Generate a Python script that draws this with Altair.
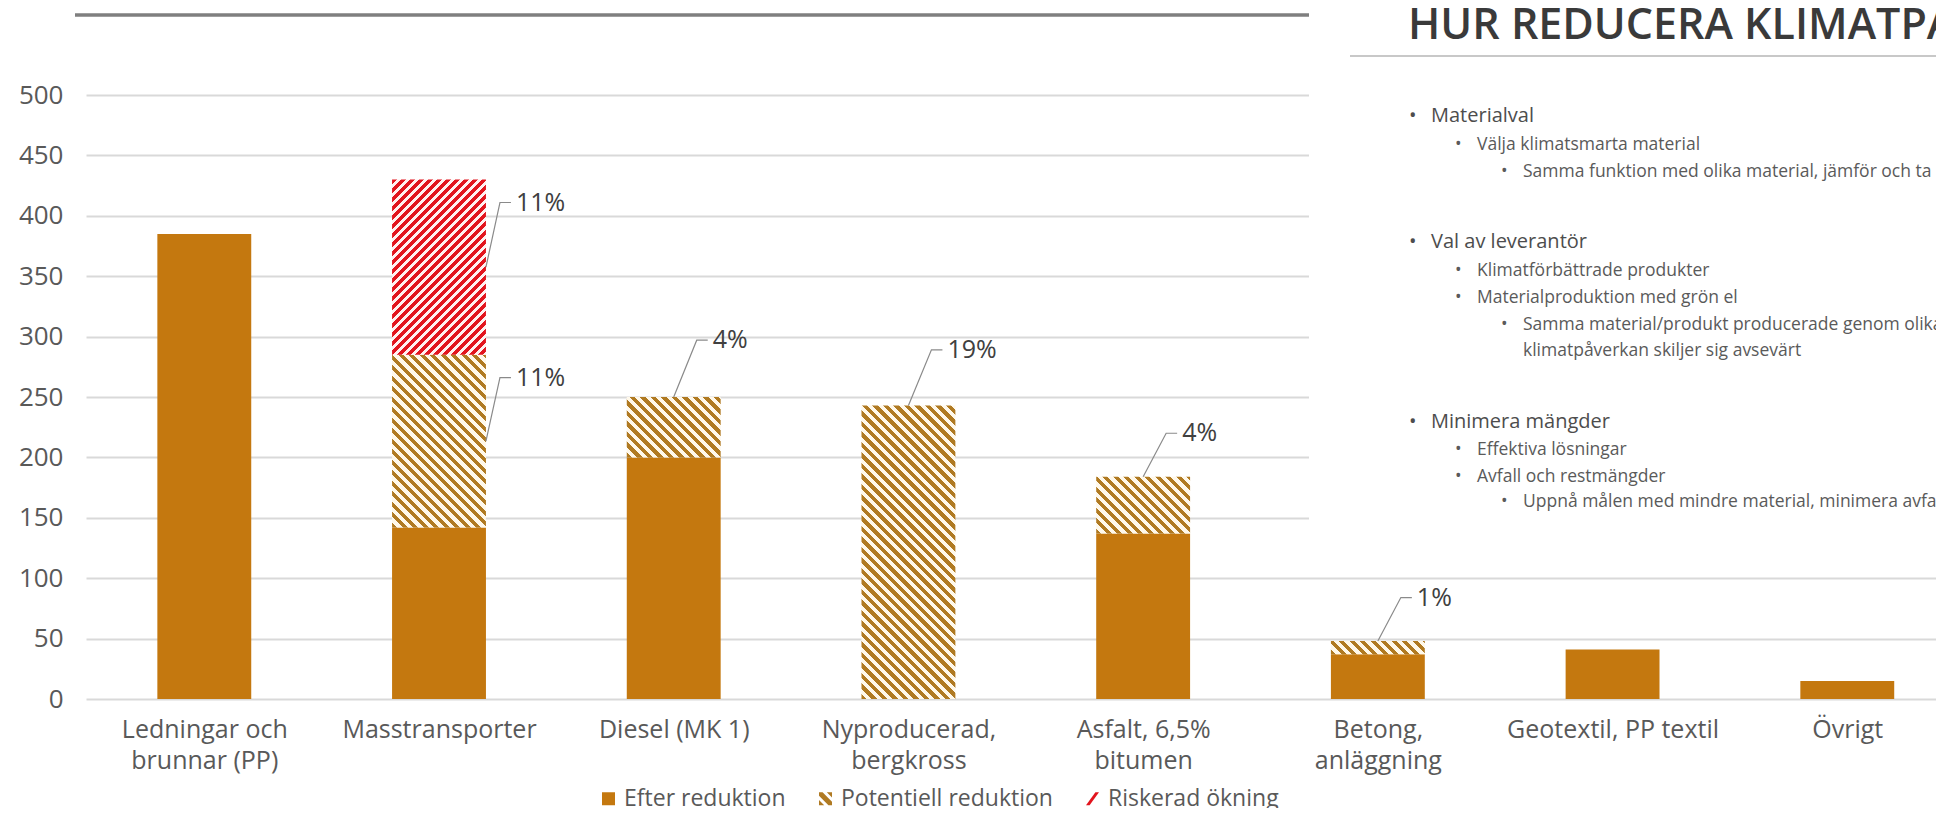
import json
import altair as alt
import pandas as pd

# ---------------- data ----------------
categories = ["Ledningar och\nbrunnar (PP)", "Masstransporter", "Diesel (MK 1)",
              "Nyproducerad,\nbergkross", "Asfalt, 6,5%\nbitumen", "Betong,\nanläggning",
              "Geotextil, PP textil", "Övrigt"]
efter = [385, 142, 200, 0, 137, 37, 41, 15]
potentiell = [0, 143, 50, 243, 47, 11, 0, 0]
riskerad = [0, 145, 0, 0, 0, 0, 0, 0]
series_names = ["Efter reduktion", "Potentiell reduktion", "Riskerad ökning"]
y_ticks = [0, 50, 100, 150, 200, 250, 300, 350, 400, 450, 500]

pct_category = [1, 1, 2, 3, 4, 5]
pct_series = ["Riskerad ökning", "Potentiell reduktion", "Potentiell reduktion",
              "Potentiell reduktion", "Potentiell reduktion", "Potentiell reduktion"]
pct_text = ["11%", "11%", "4%", "19%", "4%", "1%"]
pct_label_y = [411, 266, 297, 289, 220, 84]
pct_anchor = ["edge", "edge", "top", "top", "top", "top"]

title_text = "HUR REDUCERA KLIMATPÅVERKAN"
panel_texts = ["Materialval", "Välja klimatsmarta material",
               "Samma funktion med olika material, jämför och ta",
               "Val av leverantör", "Klimatförbättrade produkter",
               "Materialproduktion med grön el",
               "Samma material/produkt producerade genom olika",
               "klimatpåverkan skiljer sig avsevärt",
               "Minimera mängder", "Effektiva lösningar", "Avfall och restmängder",
               "Uppnå målen med mindre material, minimera avfall"]
panel_levels = [1, 2, 3, 1, 2, 2, 3, 3, 1, 2, 2, 3]
panel_bullet = [True, True, True, True, True, True, True, False, True, True, True, True]

# ---------------- layout / style ----------------
W, H = 1850, 604
PAD = {"left": 78, "top": 87, "right": 0, "bottom": 109}
X_DOM = [-0.504, 7.378]
PX_X = W / (X_DOM[1] - X_DOM[0])
PX_Y = H / 500.0
BAR_HALF = 0.2
FONT = "Open Sans"
SOLID = "#C4780F"
HATCH_DARK = "#B07A22"
HATCH_BG = "#FFF8EA"
RED = "#E2141D"
RED_BG = "#FFF0F0"
TXT = "#595959"

panel_y = [27, 55, 82, 153, 181, 208, 235, 261, 333, 360, 387, 412]
lvl_text_x = {1: 1345, 2: 1391, 3: 1437}
lvl_bullet_x = {1: 1323, 2: 1369, 3: 1415}
lvl_size = {1: 20, 2: 17.5, 3: 17.5}

XS = alt.Scale(domain=X_DOM, nice=False, zero=False)
YS = alt.Scale(domain=[0, 500], nice=False, zero=False)

label_lines = json.dumps([c.split("\n") for c in categories], ensure_ascii=False)
X_AXIS = alt.Axis(values=list(range(len(categories))), labelExpr=f"{label_lines}[datum.value]",
                  grid=False, domain=False, ticks=False, labelFont=FONT, labelFontSize=25,
                  labelColor=TXT, labelPadding=18, labelLineHeight=31, labelAlign="center",
                  labelBaseline="top", labelOverlap=False, labelFlush=False, labelBound=False,
                  labelLimit=0, title=None)
Y_AXIS = alt.Axis(values=y_ticks, grid=True, gridColor="#d9d9d9", gridWidth=2, domain=False,
                  ticks=False, labelFont=FONT, labelFontSize=26, labelColor=TXT,
                  labelPadding=23, title=None)


def X(field):
    return alt.X(field, type="quantitative", scale=XS, axis=X_AXIS, title=None)


def Y(field):
    return alt.Y(field, type="quantitative", scale=YS, axis=Y_AXIS, title=None)


# ---------------- segments ----------------
rows = []
for i, c in enumerate(categories):
    lo = 0
    for s, vals in zip(series_names, [efter, potentiell, riskerad]):
        v = vals[i]
        if v > 0:
            rows.append({"seg": f"{i}-{s}", "idx": i, "series": s, "lo": lo, "hi": lo + v,
                         "x0": i - BAR_HALF, "x1": i + BAR_HALF})
        lo += v
seg_df = pd.DataFrame(rows)


def hatch(w, h, period, color, bg, direction):
    span = w + h
    k = span / (w * w + h * h)
    if direction == "back":
        x1, y1, x2, y2 = 0, 1, k * w, 1 - k * h
    else:
        x1, y1, x2, y2 = 0, 0, k * w, k * h
    stops = []
    step = period / span
    pos = 0.0
    while pos < 1 - 1e-9:
        b = min(pos + step * 0.5, 1.0)
        c = min(pos + step, 1.0)
        stops += [{"offset": round(pos, 5), "color": color}, {"offset": round(b, 5), "color": color},
                  {"offset": round(b, 5), "color": bg}, {"offset": round(c, 5), "color": bg}]
        pos += step
    return {"gradient": "linear", "x1": round(x1, 5), "y1": round(y1, 5),
            "x2": round(x2, 5), "y2": round(y2, 5), "stops": stops}


layers = []
solid = alt.Chart(seg_df).transform_filter(alt.datum.series == series_names[0]).mark_rect(
    color=SOLID, strokeWidth=0).encode(x=X("x0"), x2="x1", y=Y("lo"), y2="hi")
layers.append(solid)

for _, r in seg_df[seg_df.series != series_names[0]].iterrows():
    w = 2 * BAR_HALF * PX_X
    h = (r.hi - r.lo) * PX_Y
    if r.series == series_names[2]:
        g = hatch(w, h, 9.0, RED, RED_BG, "fwd")
    else:
        g = hatch(w, h, 10.5, HATCH_DARK, HATCH_BG, "back")
    layers.append(alt.Chart(seg_df).transform_filter(alt.datum.seg == r.seg).mark_rect(
        fill=g, strokeWidth=0).encode(x=X("x0"), x2="x1", y=Y("lo"), y2="hi"))

# white panel that hides the grid behind the slide text (as in the screenshot)
dummy = pd.DataFrame({"a": [0]})
layers.append(alt.Chart(dummy).mark_rect(color="white").encode(
    x=alt.value(1223), x2=alt.value(W), y=alt.value(-PAD["top"]), y2=alt.value(450)))

# top decorative lines
layers.append(alt.Chart(dummy).mark_rule(color="#7f7f7f", strokeWidth=3.5).encode(
    x=alt.value(-11), x2=alt.value(1223), y=alt.value(-80)))
layers.append(alt.Chart(dummy).mark_rule(color="#c8c8c8", strokeWidth=2).encode(
    x=alt.value(1264), x2=alt.value(W), y=alt.value(-39)))

# ---------------- percentage labels with leaders ----------------
lead_rows, txt_rows = [], []
for j, (ci, s, t, ly, a) in enumerate(zip(pct_category, pct_series, pct_text, pct_label_y, pct_anchor)):
    seg = seg_df[(seg_df.idx == ci) & (seg_df.series == s)].iloc[0]
    if a == "edge":
        ax, ay, dx = ci + BAR_HALF, (seg.lo + seg.hi) / 2, 14
    else:
        ax, ay, dx = ci, seg.hi, 23
    ex = ax + dx / PX_X
    lead_rows += [{"id": j, "o": 0, "lx": ax, "ly": ay},
                  {"id": j, "o": 1, "lx": ex, "ly": ly},
                  {"id": j, "o": 2, "lx": ex + 11 / PX_X, "ly": ly}]
    txt_rows.append({"tx": ex + 16 / PX_X, "ty": ly, "t": t})

layers.append(alt.Chart(pd.DataFrame(lead_rows)).mark_line(color="#8a8a8a", strokeWidth=1.2).encode(
    x=X("lx"), y=Y("ly"), detail="id:N", order="o:Q"))
layers.append(alt.Chart(pd.DataFrame(txt_rows)).mark_text(
    align="left", baseline="middle", font=FONT, fontSize=25, color="#404040").encode(
    x=X("tx"), y=Y("ty"), text="t:N"))

# ---------------- slide text panel ----------------
layers.append(alt.Chart(dummy).mark_text(
    align="left", baseline="alphabetic", font=FONT, fontSize=43, fontWeight=600,
    color="#3a3a3a").encode(x=alt.value(1322), y=alt.value(-56), text=alt.value(title_text)))

for t, lv, b, yy in zip(panel_texts, panel_levels, panel_bullet, panel_y):
    fs = lvl_size[lv]
    col = "#4d4d4d" if lv == 1 else "#5a5a5a"
    layers.append(alt.Chart(dummy).mark_text(
        align="left", baseline="alphabetic", font=FONT, fontSize=fs, color=col).encode(
        x=alt.value(lvl_text_x[lv]), y=alt.value(yy), text=alt.value(t)))
    if b:
        layers.append(alt.Chart(dummy).mark_text(
            align="left", baseline="alphabetic", font=FONT, fontSize=fs, color=col).encode(
            x=alt.value(lvl_bullet_x[lv]), y=alt.value(yy), text=alt.value("•")))

# ---------------- legend ----------------
POT_PATH = "M0.2,-1L1,-1L1,-0.2Z M-1,-1L-0.45,-1L1,0.45L1,1L0.45,1L-1,-0.45Z M-1,0.2L-1,1L-0.2,1Z"
RISK_PATH = "M-1,1L-0.45,1L1,-1L0.45,-1Z"
leg = alt.Legend(title=None, orient="none", legendX=511, legendY=692, direction="horizontal",
                 labelFont=FONT, labelFontSize=23, labelColor=TXT, symbolSize=169,
                 symbolStrokeWidth=0, symbolOpacity=1, labelOffset=4, columnPadding=28,
                 padding=0, labelLimit=0)
legend_df = pd.DataFrame({"series": series_names})
layers.append(alt.Chart(legend_df).mark_point(filled=True, opacity=0).encode(
    x=alt.value(0), y=alt.value(0),
    color=alt.Color("series:N", scale=alt.Scale(domain=series_names, range=[SOLID, HATCH_DARK, RED]),
                    legend=leg),
    shape=alt.Shape("series:N", scale=alt.Scale(domain=series_names, range=["square", POT_PATH, RISK_PATH]),
                    legend=leg)))

chart = alt.layer(*layers).properties(
    width=W, height=H, padding=PAD, autosize=alt.AutoSizeParams(type="none"),
    background="white").configure_view(stroke=None)

chart.save("out.html", embed_options={"renderer": "svg", "actions": False})
